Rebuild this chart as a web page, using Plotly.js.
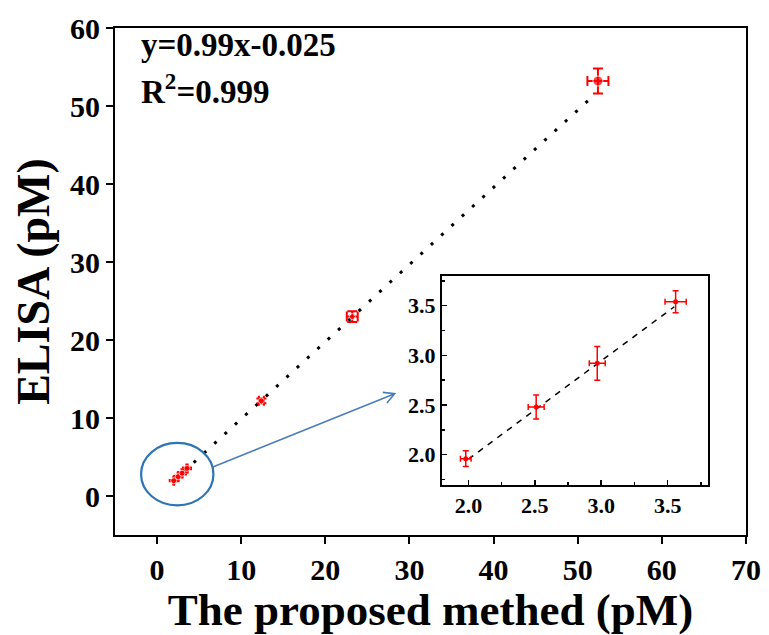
<!DOCTYPE html>
<html>
<head>
<meta charset="utf-8">
<script src="https://cdn.plot.ly/plotly-3.0.1.min.js"></script>
<style>html,body{margin:0;padding:0;background:#fff;}#chart{width:769px;height:635px;}</style>
</head>
<body>
<div id="chart"></div>
<script>
// Measured pairs: proposed method (x) vs ELISA (y), pM
const proposedX = [1.98, 2.51, 2.97, 3.56, 12.4, 23.2, 52.4];
const elisaY    = [1.96, 2.48, 2.92, 3.54, 12.2, 23.0, 53.2];
const errX      = [0.04, 0.06, 0.06, 0.08, 0.30, 0.65, 1.25];
const errY      = [0.08, 0.12, 0.17, 0.11, 0.30, 0.70, 1.60];

// Inset points (low concentrations)
const insetX    = [1.98, 2.51, 2.97, 3.56];
const insetY    = [1.96, 2.48, 2.92, 3.54];
const insetErrX = [0.04, 0.06, 0.06, 0.08];
const insetErrY = [0.08, 0.12, 0.17, 0.11];

// Linear fit
const fitSlope = 0.99;
const fitIntercept = -0.025;
const fitRangeMain = [1.9, 51.3];
const fitRangeInset = [2.0, 3.55];

const mainTicks = [0, 10, 20, 30, 40, 50, 60, 70];
const mainYTicks = [0, 10, 20, 30, 40, 50, 60];
const insetTicks = [2.0, 2.5, 3.0, 3.5];

const eqText = 'y=0.99x-0.025';
const r2Text = 'R<sup>2</sup>=0.999';
const xTitle = 'The proposed methed (pM)';
const yTitle = 'ELISA (pM)';

const FONT = 'Liberation Serif, Times New Roman, serif';
const RED = '#ff0000';
const BLUE = '#2e75b6';

const fitLine = (r) => ({x: r, y: r.map(v => fitSlope * v + fitIntercept)});
const fm = fitLine(fitRangeMain);
const fi = fitLine(fitRangeInset);

const traces = [
  {x: fm.x, y: fm.y, mode: 'lines', xaxis: 'x', yaxis: 'y',
   line: {color: '#000', width: 3, dash: '3px,11px'}, hoverinfo: 'skip'},
  {x: proposedX, y: elisaY, mode: 'markers', xaxis: 'x', yaxis: 'y',
   marker: {color: RED, size: proposedX.map((v, i) => i === 6 ? 10 : 6)},
   error_x: {type: 'data', array: errX, visible: true, color: RED, thickness: 2, width: 5},
   error_y: {type: 'data', array: errY, visible: true, color: RED, thickness: 2, width: 5}},
  {x: fi.x, y: fi.y, mode: 'lines', xaxis: 'x2', yaxis: 'y2',
   line: {color: '#000', width: 1.5, dash: '6px,6px'}, hoverinfo: 'skip'},
  {x: insetX, y: insetY, mode: 'markers', xaxis: 'x2', yaxis: 'y2',
   marker: {color: RED, size: 5},
   error_x: {type: 'data', array: insetErrX, visible: true, color: RED, thickness: 1.5, width: 3},
   error_y: {type: 'data', array: insetErrY, visible: true, color: RED, thickness: 1.5, width: 3}}
];

const layout = {
  width: 769, height: 635,
  margin: {l: 115, r: 23, t: 28, b: 100},
  paper_bgcolor: '#fff', plot_bgcolor: '#fff',
  showlegend: false,
  font: {family: FONT, color: '#000'},
  xaxis: {
    range: [-5, 70], domain: [0, 1], anchor: 'y',
    tickvals: mainTicks, ticktext: mainTicks.map(String),
    ticks: 'outside', ticklen: 7, tickwidth: 2, tickcolor: '#000',
    showline: true, linewidth: 2, linecolor: '#000', mirror: true,
    showgrid: false, zeroline: false,
    tickfont: {family: FONT, size: 30, color: '#000', weight: 'bold'},
    title: {text: '<b>' + xTitle + '</b>', font: {family: FONT, size: 45, color: '#000'}, standoff: 4}
  },
  yaxis: {
    range: [-5, 60], domain: [0, 1], anchor: 'x',
    tickvals: mainYTicks, ticktext: mainYTicks.map(String),
    ticks: 'outside', ticklen: 7, tickwidth: 2, tickcolor: '#000',
    showline: true, linewidth: 2, linecolor: '#000', mirror: true,
    showgrid: false, zeroline: false,
    tickfont: {family: FONT, size: 30, color: '#000', weight: 'bold'},
    title: {text: '<b>' + yTitle + '</b>', font: {family: FONT, size: 46, color: '#000'}, standoff: 6}
  },
  xaxis2: {
    range: [1.8, 3.8], domain: [0.518, 0.939], anchor: 'y2',
    tickvals: insetTicks, ticktext: insetTicks.map(v => v.toFixed(1)),
    ticks: 'inside', ticklen: 5, tickwidth: 1.5, tickcolor: '#000',
    minor: {ticks: 'inside', dtick: 0.25, tick0: 0, ticklen: 3, tickwidth: 1.5, tickcolor: '#000'},
    showline: true, linewidth: 2, linecolor: '#000', mirror: true,
    showgrid: false, zeroline: false,
    tickfont: {family: FONT, size: 22, color: '#000', weight: 'bold'}
  },
  yaxis2: {
    range: [1.7, 3.8], domain: [0.0996, 0.511], anchor: 'x2',
    tickvals: insetTicks, ticktext: insetTicks.map(v => v.toFixed(1)),
    ticks: 'inside', ticklen: 5, tickwidth: 1.5, tickcolor: '#000',
    minor: {ticks: 'inside', dtick: 0.25, tick0: 0, ticklen: 3, tickwidth: 1.5, tickcolor: '#000'},
    showline: true, linewidth: 2, linecolor: '#000', mirror: true,
    showgrid: false, zeroline: false,
    tickfont: {family: FONT, size: 22, color: '#000', weight: 'bold'}
  },
  shapes: [
    {type: 'circle', xref: 'x', yref: 'y', x0: -1.9, x1: 6.7, y0: -1.2, y1: 6.8,
     line: {color: BLUE, width: 2.2}},
    {type: 'path', xref: 'x', yref: 'y',
     path: 'M 6.63,3.71 L 28.24,13.11 M 26.83,13.28 L 28.24,13.11 L 27.32,11.93',
     line: {color: '#4a7ebb', width: 1.6}}
  ],
  annotations: [
    {xref: 'paper', yref: 'paper', x: 0.038, y: 0.966, xanchor: 'left', yanchor: 'middle',
     text: '<b>' + eqText + '</b>', showarrow: false, font: {family: FONT, size: 33, color: '#000'}},
    {xref: 'paper', yref: 'paper', x: 0.038, y: 0.88, xanchor: 'left', yanchor: 'middle',
     text: '<b>' + r2Text + '</b>', showarrow: false, font: {family: FONT, size: 33, color: '#000'}}
  ]
};

Plotly.newPlot('chart', traces, layout, {displayModeBar: false, staticPlot: true});
</script>
</body>
</html>
